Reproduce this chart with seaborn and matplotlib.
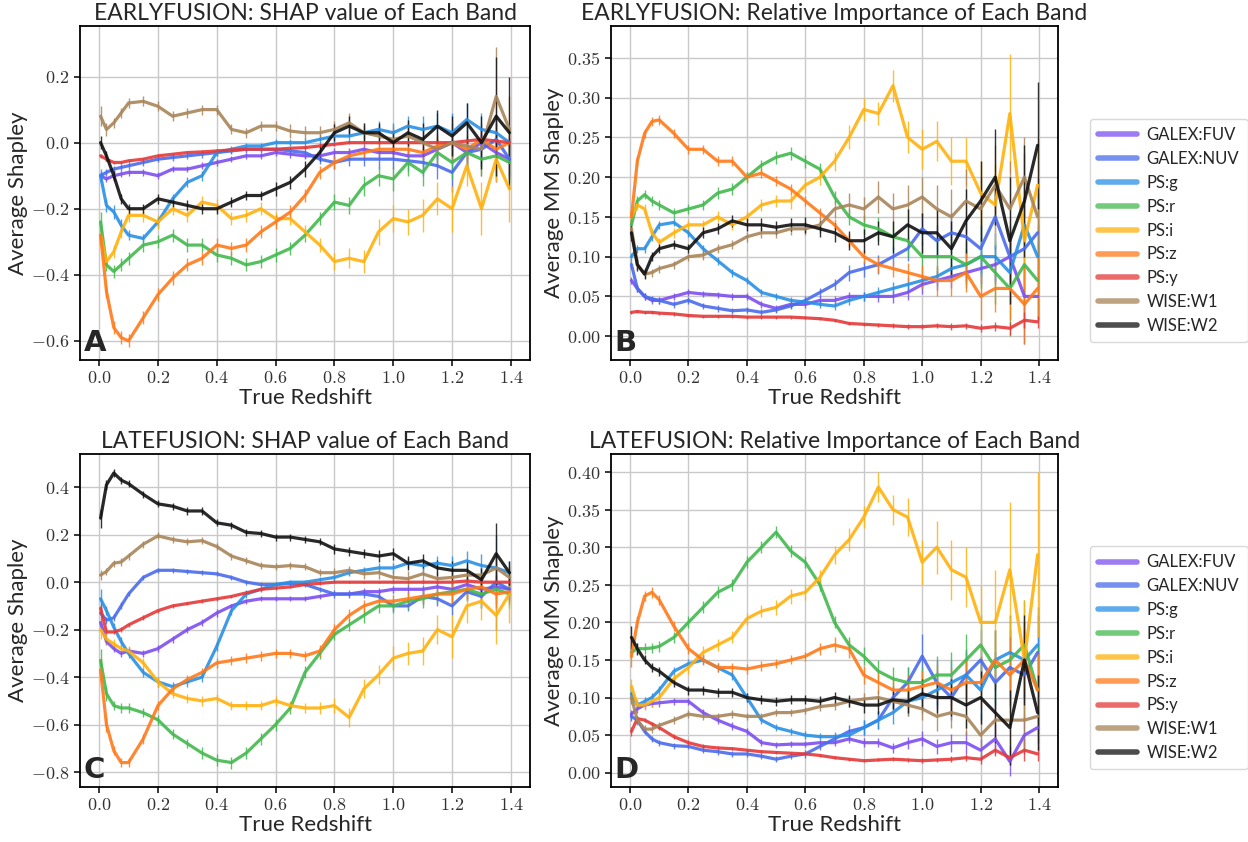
import numpy as np
import pandas as pd
import matplotlib
matplotlib.use('Agg')
import matplotlib.pyplot as plt
from matplotlib.ticker import FuncFormatter, MultipleLocator
from matplotlib.lines import Line2D
import seaborn as sns

# eixo x comum (redshift verdadeiro)
redshift = [0.005, 0.025, 0.05, 0.075, 0.1, 0.15, 0.2, 0.25, 0.3, 0.35, 0.4, 0.45, 0.5, 0.55, 0.6,
            0.65, 0.7, 0.75, 0.8, 0.85, 0.9, 0.95, 1.0, 1.05, 1.1, 1.15, 1.2, 1.25, 1.3, 1.35, 1.395]

bandas = ['GALEX:FUV', 'GALEX:NUV', 'PS:g', 'PS:r', 'PS:i', 'PS:z', 'PS:y', 'WISE:W1', 'WISE:W2']
cores = ['#7d4ff0', '#4a6cec', '#2a90e6', '#43b94f', '#ffb20f', '#ff7a1a', '#e53a3a', '#a8855a', '#111111']

# ---- A: EARLYFUSION SHAP ----
a_fuv = [-0.10, -0.11, -0.10, -0.095, -0.09, -0.09, -0.10, -0.08, -0.08, -0.07, -0.06, -0.05, -0.04, -0.04, -0.03,
         -0.035, -0.04, -0.04, -0.03, -0.03, -0.02, -0.03, -0.03, -0.04, -0.04, -0.02, 0.00, -0.03, 0.00, -0.03, -0.05]
a_nuv = [-0.10, -0.09, -0.08, -0.075, -0.07, -0.06, -0.05, -0.045, -0.04, -0.035, -0.03, -0.025, -0.02, -0.02, -0.02,
         -0.025, -0.03, -0.05, -0.06, -0.05, -0.05, -0.05, -0.05, -0.055, -0.06, -0.07, -0.09, -0.03, -0.02, 0.01, -0.05]
a_g = [-0.10, -0.19, -0.21, -0.25, -0.28, -0.29, -0.24, -0.17, -0.12, -0.10, -0.03, -0.02, -0.01, -0.01, 0.00,
       0.00, 0.00, 0.01, 0.02, 0.02, 0.03, 0.04, 0.03, 0.05, 0.04, 0.05, 0.03, 0.07, 0.04, 0.03, 0.00]
a_r = [-0.24, -0.37, -0.39, -0.37, -0.35, -0.31, -0.30, -0.28, -0.31, -0.31, -0.34, -0.35, -0.37, -0.36, -0.34,
       -0.32, -0.28, -0.23, -0.18, -0.19, -0.13, -0.10, -0.11, -0.06, -0.09, -0.03, -0.06, -0.03, -0.05, -0.04, -0.06]
a_i = [-0.28, -0.36, -0.33, -0.27, -0.22, -0.22, -0.24, -0.20, -0.22, -0.18, -0.19, -0.23, -0.22, -0.20, -0.23,
       -0.23, -0.27, -0.31, -0.36, -0.35, -0.36, -0.27, -0.23, -0.24, -0.22, -0.17, -0.20, -0.07, -0.20, -0.05, -0.14]
a_z = [-0.28, -0.45, -0.56, -0.59, -0.60, -0.53, -0.46, -0.41, -0.37, -0.35, -0.31, -0.32, -0.31, -0.27, -0.24,
       -0.21, -0.16, -0.09, -0.06, -0.04, -0.03, -0.02, -0.02, -0.02, -0.03, -0.01, 0.00, -0.02, 0.01, -0.02, 0.00]
a_y = [-0.04, -0.05, -0.06, -0.06, -0.055, -0.05, -0.04, -0.035, -0.03, -0.028, -0.025, -0.022, -0.02, -0.02, -0.02,
       -0.017, -0.015, -0.01, -0.005, 0.00, 0.00, 0.00, 0.00, 0.00, 0.00, 0.00, 0.00, 0.005, 0.01, 0.005, 0.00]
a_w1 = [0.08, 0.04, 0.06, 0.09, 0.12, 0.125, 0.11, 0.08, 0.09, 0.10, 0.10, 0.04, 0.03, 0.05, 0.05,
        0.035, 0.03, 0.03, 0.04, 0.06, 0.03, 0.02, 0.01, 0.02, 0.00, -0.02, 0.00, -0.01, -0.02, 0.14, 0.04]
a_w2 = [0.00, -0.04, -0.10, -0.17, -0.20, -0.20, -0.17, -0.18, -0.19, -0.20, -0.20, -0.18, -0.16, -0.16, -0.14,
        -0.12, -0.08, -0.03, 0.03, 0.05, 0.03, 0.03, 0.00, 0.03, 0.01, 0.05, 0.02, 0.06, 0.00, 0.08, 0.03]

a_fuv_err = [0.01, 0.01, 0.01, 0.01, 0.01, 0.01, 0.01, 0.01, 0.01, 0.01, 0.01, 0.01, 0.01, 0.01, 0.01,
             0.01, 0.01, 0.01, 0.015, 0.015, 0.015, 0.02, 0.02, 0.02, 0.03, 0.03, 0.04, 0.04, 0.05, 0.09, 0.06]
a_nuv_err = [0.01, 0.01, 0.01, 0.01, 0.01, 0.01, 0.01, 0.01, 0.01, 0.01, 0.01, 0.01, 0.01, 0.01, 0.01,
             0.01, 0.015, 0.015, 0.02, 0.02, 0.02, 0.03, 0.03, 0.03, 0.04, 0.04, 0.06, 0.05, 0.05, 0.07, 0.05]
a_g_err = [0.02, 0.02, 0.02, 0.02, 0.015, 0.015, 0.015, 0.015, 0.015, 0.015, 0.01, 0.01, 0.01, 0.01, 0.01,
           0.01, 0.015, 0.015, 0.02, 0.02, 0.02, 0.025, 0.03, 0.03, 0.04, 0.04, 0.06, 0.05, 0.05, 0.05, 0.05]
a_r_err = [0.03, 0.02, 0.02, 0.02, 0.02, 0.02, 0.02, 0.02, 0.02, 0.02, 0.02, 0.02, 0.02, 0.02, 0.02,
           0.02, 0.02, 0.02, 0.025, 0.025, 0.03, 0.03, 0.035, 0.04, 0.04, 0.04, 0.05, 0.05, 0.05, 0.07, 0.06]
a_i_err = [0.03, 0.02, 0.02, 0.02, 0.02, 0.02, 0.02, 0.02, 0.02, 0.02, 0.02, 0.02, 0.02, 0.02, 0.02,
           0.02, 0.02, 0.02, 0.025, 0.03, 0.035, 0.04, 0.04, 0.04, 0.05, 0.05, 0.07, 0.06, 0.08, 0.07, 0.10]
a_z_err = [0.02, 0.02, 0.02, 0.02, 0.02, 0.02, 0.02, 0.02, 0.02, 0.02, 0.02, 0.02, 0.02, 0.02, 0.02,
           0.02, 0.02, 0.02, 0.02, 0.02, 0.02, 0.02, 0.02, 0.02, 0.02, 0.03, 0.03, 0.03, 0.03, 0.04, 0.04]
a_y_err = [0.005, 0.005, 0.005, 0.005, 0.005, 0.005, 0.005, 0.005, 0.005, 0.005, 0.005, 0.005, 0.005, 0.005, 0.005,
           0.005, 0.005, 0.005, 0.005, 0.005, 0.005, 0.005, 0.005, 0.005, 0.008, 0.008, 0.01, 0.01, 0.01, 0.015, 0.015]
a_w1_err = [0.03, 0.02, 0.015, 0.015, 0.015, 0.015, 0.015, 0.015, 0.015, 0.015, 0.015, 0.015, 0.015, 0.015, 0.015,
            0.02, 0.02, 0.02, 0.025, 0.03, 0.03, 0.03, 0.04, 0.04, 0.05, 0.05, 0.06, 0.07, 0.08, 0.15, 0.10]
a_w2_err = [0.02, 0.015, 0.015, 0.015, 0.015, 0.015, 0.015, 0.015, 0.015, 0.015, 0.015, 0.015, 0.015, 0.015, 0.02,
            0.02, 0.025, 0.025, 0.025, 0.03, 0.03, 0.03, 0.035, 0.04, 0.05, 0.05, 0.06, 0.06, 0.08, 0.18, 0.17]

# ---- B: EARLYFUSION importancia relativa ----
b_fuv = [0.070, 0.060, 0.050, 0.045, 0.045, 0.050, 0.055, 0.053, 0.052, 0.050, 0.050, 0.040, 0.035, 0.040, 0.040,
         0.045, 0.045, 0.050, 0.050, 0.050, 0.050, 0.055, 0.065, 0.070, 0.075, 0.080, 0.085, 0.090, 0.100, 0.050, 0.050]
b_nuv = [0.090, 0.060, 0.050, 0.047, 0.045, 0.040, 0.045, 0.038, 0.035, 0.032, 0.033, 0.030, 0.033, 0.038, 0.045,
         0.055, 0.065, 0.080, 0.085, 0.090, 0.100, 0.110, 0.135, 0.120, 0.130, 0.125, 0.110, 0.150, 0.100, 0.110, 0.130]
b_g = [0.100, 0.110, 0.110, 0.125, 0.140, 0.143, 0.130, 0.110, 0.095, 0.080, 0.070, 0.055, 0.050, 0.045, 0.043,
       0.040, 0.038, 0.045, 0.050, 0.055, 0.060, 0.065, 0.070, 0.075, 0.085, 0.090, 0.100, 0.100, 0.080, 0.140, 0.100]
b_r = [0.140, 0.170, 0.178, 0.170, 0.165, 0.155, 0.160, 0.165, 0.180, 0.185, 0.200, 0.215, 0.225, 0.230, 0.220,
       0.210, 0.175, 0.150, 0.140, 0.135, 0.125, 0.120, 0.100, 0.100, 0.100, 0.090, 0.100, 0.080, 0.060, 0.090, 0.070]
b_i = [0.150, 0.165, 0.160, 0.130, 0.118, 0.130, 0.140, 0.140, 0.150, 0.140, 0.150, 0.165, 0.170, 0.170, 0.190,
       0.200, 0.220, 0.250, 0.285, 0.280, 0.315, 0.250, 0.235, 0.245, 0.220, 0.220, 0.180, 0.165, 0.280, 0.120, 0.190]
b_z = [0.150, 0.220, 0.255, 0.270, 0.272, 0.255, 0.235, 0.235, 0.220, 0.220, 0.200, 0.205, 0.195, 0.185, 0.170,
       0.155, 0.140, 0.120, 0.100, 0.090, 0.085, 0.080, 0.075, 0.070, 0.070, 0.080, 0.050, 0.060, 0.060, 0.040, 0.060]
b_y = [0.030, 0.031, 0.030, 0.030, 0.029, 0.028, 0.026, 0.025, 0.025, 0.025, 0.024, 0.024, 0.024, 0.024, 0.023,
       0.022, 0.020, 0.016, 0.015, 0.014, 0.013, 0.012, 0.012, 0.013, 0.012, 0.013, 0.010, 0.012, 0.010, 0.020, 0.018]
b_w1 = [0.135, 0.090, 0.078, 0.080, 0.085, 0.090, 0.100, 0.102, 0.110, 0.115, 0.125, 0.130, 0.130, 0.135, 0.135,
        0.140, 0.160, 0.165, 0.160, 0.175, 0.160, 0.165, 0.175, 0.160, 0.150, 0.170, 0.160, 0.190, 0.160, 0.200, 0.150]
b_w2 = [0.130, 0.090, 0.078, 0.100, 0.110, 0.115, 0.110, 0.130, 0.135, 0.145, 0.140, 0.140, 0.137, 0.140, 0.140,
        0.135, 0.130, 0.120, 0.120, 0.130, 0.125, 0.140, 0.130, 0.130, 0.110, 0.145, 0.170, 0.200, 0.120, 0.170, 0.240]

b_fuv_err = [0.005, 0.004, 0.004, 0.004, 0.004, 0.004, 0.004, 0.004, 0.004, 0.004, 0.004, 0.004, 0.004, 0.004, 0.004,
             0.005, 0.005, 0.006, 0.006, 0.007, 0.008, 0.01, 0.012, 0.012, 0.015, 0.015, 0.02, 0.025, 0.03, 0.04, 0.03]
b_nuv_err = [0.005, 0.004, 0.004, 0.004, 0.004, 0.004, 0.004, 0.004, 0.004, 0.004, 0.004, 0.004, 0.004, 0.004, 0.005,
             0.006, 0.007, 0.01, 0.01, 0.012, 0.012, 0.015, 0.02, 0.02, 0.025, 0.025, 0.03, 0.04, 0.04, 0.12, 0.05]
b_g_err = [0.005, 0.005, 0.005, 0.005, 0.005, 0.005, 0.005, 0.005, 0.005, 0.005, 0.004, 0.004, 0.004, 0.004, 0.004,
           0.004, 0.005, 0.006, 0.006, 0.007, 0.008, 0.01, 0.01, 0.012, 0.015, 0.02, 0.025, 0.03, 0.04, 0.03, 0.04]
b_r_err = [0.008, 0.006, 0.006, 0.006, 0.006, 0.006, 0.006, 0.006, 0.007, 0.007, 0.007, 0.007, 0.008, 0.008, 0.008,
           0.008, 0.008, 0.01, 0.012, 0.015, 0.015, 0.02, 0.02, 0.025, 0.03, 0.03, 0.04, 0.04, 0.06, 0.05, 0.05]
b_i_err = [0.008, 0.006, 0.006, 0.006, 0.006, 0.006, 0.006, 0.006, 0.007, 0.007, 0.007, 0.008, 0.008, 0.01, 0.01,
           0.01, 0.012, 0.015, 0.015, 0.015, 0.02, 0.02, 0.025, 0.025, 0.03, 0.03, 0.04, 0.05, 0.075, 0.06, 0.06]
b_z_err = [0.008, 0.006, 0.006, 0.006, 0.006, 0.006, 0.006, 0.006, 0.006, 0.006, 0.006, 0.006, 0.006, 0.006, 0.006,
           0.006, 0.007, 0.008, 0.008, 0.01, 0.01, 0.012, 0.015, 0.02, 0.02, 0.025, 0.03, 0.03, 0.04, 0.05, 0.04]
b_y_err = [0.002, 0.002, 0.002, 0.002, 0.002, 0.002, 0.002, 0.002, 0.002, 0.002, 0.002, 0.002, 0.002, 0.002, 0.002,
           0.002, 0.002, 0.002, 0.002, 0.002, 0.003, 0.003, 0.003, 0.003, 0.004, 0.004, 0.005, 0.006, 0.008, 0.01, 0.008]
b_w1_err = [0.008, 0.006, 0.005, 0.005, 0.005, 0.005, 0.005, 0.006, 0.006, 0.006, 0.006, 0.007, 0.007, 0.008, 0.008,
            0.01, 0.012, 0.015, 0.015, 0.02, 0.02, 0.025, 0.025, 0.03, 0.035, 0.04, 0.04, 0.05, 0.06, 0.05, 0.05]
b_w2_err = [0.01, 0.008, 0.006, 0.006, 0.006, 0.006, 0.006, 0.007, 0.007, 0.008, 0.008, 0.008, 0.008, 0.008, 0.01,
            0.01, 0.012, 0.012, 0.015, 0.015, 0.02, 0.02, 0.025, 0.03, 0.035, 0.04, 0.05, 0.06, 0.08, 0.07, 0.08]

# ---- C: LATEFUSION SHAP ----
c_fuv = [-0.17, -0.25, -0.28, -0.30, -0.29, -0.30, -0.28, -0.24, -0.20, -0.17, -0.13, -0.10, -0.08, -0.07, -0.07,
         -0.07, -0.07, -0.06, -0.05, -0.05, -0.04, -0.04, -0.03, -0.03, -0.03, -0.02, -0.03, -0.01, -0.03, -0.02, -0.03]
c_nuv = [-0.13, -0.16, -0.15, -0.10, -0.05, 0.02, 0.05, 0.05, 0.045, 0.04, 0.035, 0.02, 0.00, -0.01, -0.01,
         -0.005, -0.01, -0.03, -0.05, -0.05, -0.05, -0.06, -0.10, -0.10, -0.06, -0.07, -0.10, -0.04, -0.06, 0.00, -0.03]
c_g = [-0.07, -0.12, -0.19, -0.25, -0.30, -0.38, -0.42, -0.44, -0.42, -0.40, -0.27, -0.12, -0.05, -0.03, -0.01,
       0.00, 0.00, 0.01, 0.02, 0.04, 0.05, 0.06, 0.06, 0.08, 0.07, 0.08, 0.07, 0.09, 0.07, 0.06, 0.04]
c_r = [-0.33, -0.47, -0.52, -0.53, -0.53, -0.55, -0.58, -0.64, -0.68, -0.72, -0.75, -0.76, -0.72, -0.66, -0.60,
       -0.53, -0.38, -0.30, -0.22, -0.18, -0.14, -0.10, -0.10, -0.08, -0.07, -0.05, -0.04, -0.03, -0.05, -0.03, -0.05]
c_i = [-0.20, -0.24, -0.26, -0.28, -0.29, -0.34, -0.42, -0.47, -0.49, -0.50, -0.49, -0.52, -0.52, -0.52, -0.50,
       -0.52, -0.53, -0.53, -0.52, -0.57, -0.45, -0.39, -0.32, -0.30, -0.29, -0.20, -0.23, -0.10, -0.08, -0.14, -0.05]
c_z = [-0.37, -0.60, -0.71, -0.76, -0.76, -0.66, -0.52, -0.45, -0.41, -0.38, -0.34, -0.33, -0.32, -0.31, -0.30,
       -0.30, -0.31, -0.29, -0.20, -0.14, -0.10, -0.08, -0.08, -0.07, -0.06, -0.05, -0.05, -0.03, -0.02, -0.05, -0.04]
c_y = [-0.11, -0.21, -0.21, -0.20, -0.18, -0.15, -0.12, -0.10, -0.09, -0.08, -0.07, -0.06, -0.045, -0.03, -0.025,
       -0.02, -0.01, -0.005, 0.00, 0.00, 0.00, 0.00, 0.00, 0.00, 0.00, 0.00, 0.00, 0.005, 0.00, 0.00, 0.00]
c_w1 = [0.03, 0.045, 0.08, 0.085, 0.11, 0.16, 0.195, 0.18, 0.17, 0.175, 0.15, 0.11, 0.09, 0.07, 0.065,
        0.07, 0.065, 0.04, 0.04, 0.05, 0.035, 0.04, 0.02, 0.015, 0.035, 0.015, 0.02, 0.03, 0.03, 0.06, 0.02]
c_w2 = [0.27, 0.41, 0.46, 0.43, 0.415, 0.37, 0.33, 0.32, 0.30, 0.30, 0.25, 0.24, 0.21, 0.205, 0.19,
        0.19, 0.18, 0.17, 0.14, 0.13, 0.12, 0.11, 0.12, 0.08, 0.09, 0.06, 0.05, 0.05, 0.01, 0.12, 0.04]

c_fuv_err = [0.02, 0.015, 0.015, 0.015, 0.015, 0.015, 0.015, 0.015, 0.015, 0.015, 0.015, 0.01, 0.01, 0.01, 0.01,
             0.01, 0.01, 0.01, 0.01, 0.01, 0.015, 0.015, 0.015, 0.02, 0.02, 0.025, 0.03, 0.03, 0.04, 0.05, 0.04]
c_nuv_err = [0.02, 0.015, 0.015, 0.015, 0.01, 0.01, 0.01, 0.01, 0.01, 0.01, 0.01, 0.01, 0.01, 0.01, 0.01,
             0.01, 0.01, 0.01, 0.015, 0.015, 0.015, 0.02, 0.02, 0.02, 0.03, 0.03, 0.04, 0.04, 0.05, 0.20, 0.05]
c_g_err = [0.04, 0.02, 0.02, 0.02, 0.02, 0.02, 0.02, 0.02, 0.02, 0.02, 0.02, 0.02, 0.015, 0.01, 0.01,
           0.01, 0.01, 0.01, 0.015, 0.015, 0.015, 0.02, 0.02, 0.02, 0.03, 0.03, 0.04, 0.04, 0.05, 0.06, 0.05]
c_r_err = [0.05, 0.03, 0.02, 0.02, 0.02, 0.02, 0.02, 0.02, 0.02, 0.025, 0.025, 0.025, 0.025, 0.025, 0.025,
           0.025, 0.025, 0.025, 0.025, 0.025, 0.03, 0.03, 0.03, 0.035, 0.04, 0.04, 0.05, 0.05, 0.06, 0.06, 0.06]
c_i_err = [0.04, 0.02, 0.02, 0.02, 0.02, 0.02, 0.02, 0.02, 0.02, 0.02, 0.02, 0.02, 0.02, 0.02, 0.02,
           0.02, 0.02, 0.025, 0.03, 0.04, 0.04, 0.04, 0.05, 0.05, 0.06, 0.06, 0.09, 0.07, 0.08, 0.12, 0.12]
c_z_err = [0.05, 0.03, 0.02, 0.02, 0.02, 0.02, 0.02, 0.02, 0.02, 0.02, 0.02, 0.02, 0.02, 0.02, 0.02,
           0.02, 0.02, 0.025, 0.025, 0.025, 0.025, 0.025, 0.025, 0.03, 0.03, 0.03, 0.04, 0.04, 0.05, 0.06, 0.05]
c_y_err = [0.02, 0.01, 0.01, 0.01, 0.01, 0.01, 0.008, 0.008, 0.008, 0.008, 0.008, 0.006, 0.006, 0.006, 0.006,
           0.005, 0.005, 0.005, 0.005, 0.005, 0.005, 0.005, 0.005, 0.005, 0.008, 0.008, 0.01, 0.01, 0.01, 0.015, 0.015]
c_w1_err = [0.02, 0.015, 0.015, 0.015, 0.015, 0.015, 0.015, 0.015, 0.015, 0.015, 0.015, 0.015, 0.015, 0.015, 0.015,
            0.015, 0.015, 0.015, 0.02, 0.02, 0.02, 0.025, 0.025, 0.03, 0.03, 0.03, 0.035, 0.04, 0.05, 0.06, 0.05]
c_w2_err = [0.04, 0.02, 0.015, 0.015, 0.015, 0.015, 0.015, 0.015, 0.015, 0.015, 0.015, 0.015, 0.015, 0.015, 0.015,
            0.015, 0.015, 0.015, 0.02, 0.02, 0.02, 0.025, 0.025, 0.03, 0.03, 0.035, 0.04, 0.04, 0.05, 0.13, 0.05]

# ---- D: LATEFUSION importancia relativa ----
d_fuv = [0.078, 0.085, 0.090, 0.092, 0.093, 0.095, 0.095, 0.080, 0.070, 0.062, 0.055, 0.040, 0.037, 0.038, 0.038,
         0.040, 0.040, 0.045, 0.040, 0.040, 0.033, 0.040, 0.045, 0.035, 0.040, 0.040, 0.030, 0.045, 0.015, 0.050, 0.060]
d_nuv = [0.075, 0.070, 0.055, 0.045, 0.040, 0.036, 0.035, 0.030, 0.028, 0.025, 0.025, 0.022, 0.018, 0.022, 0.025,
         0.035, 0.045, 0.055, 0.060, 0.070, 0.100, 0.120, 0.155, 0.120, 0.100, 0.130, 0.150, 0.120, 0.140, 0.130, 0.160]
d_g = [0.105, 0.090, 0.095, 0.100, 0.110, 0.135, 0.145, 0.150, 0.140, 0.130, 0.100, 0.070, 0.060, 0.055, 0.050,
       0.048, 0.048, 0.050, 0.060, 0.070, 0.080, 0.095, 0.100, 0.110, 0.120, 0.130, 0.110, 0.150, 0.160, 0.150, 0.170]
d_r = [0.160, 0.165, 0.165, 0.166, 0.168, 0.180, 0.200, 0.220, 0.240, 0.250, 0.280, 0.300, 0.320, 0.295, 0.280,
       0.250, 0.200, 0.170, 0.155, 0.135, 0.125, 0.120, 0.120, 0.130, 0.130, 0.150, 0.170, 0.140, 0.150, 0.170, 0.110]
d_i = [0.115, 0.090, 0.090, 0.095, 0.100, 0.125, 0.140, 0.160, 0.170, 0.180, 0.205, 0.215, 0.220, 0.235, 0.240,
       0.260, 0.290, 0.310, 0.340, 0.380, 0.350, 0.340, 0.280, 0.300, 0.270, 0.260, 0.200, 0.200, 0.270, 0.150, 0.290]
d_z = [0.155, 0.200, 0.235, 0.240, 0.230, 0.195, 0.165, 0.150, 0.140, 0.140, 0.138, 0.142, 0.145, 0.150, 0.155,
       0.165, 0.170, 0.165, 0.130, 0.120, 0.110, 0.110, 0.115, 0.120, 0.110, 0.120, 0.120, 0.150, 0.130, 0.150, 0.110]
d_y = [0.055, 0.072, 0.070, 0.065, 0.060, 0.048, 0.040, 0.035, 0.033, 0.032, 0.030, 0.028, 0.027, 0.026, 0.025,
       0.023, 0.020, 0.018, 0.016, 0.017, 0.018, 0.017, 0.016, 0.017, 0.018, 0.020, 0.018, 0.030, 0.020, 0.030, 0.025]
d_w1 = [0.100, 0.070, 0.058, 0.058, 0.063, 0.070, 0.078, 0.075, 0.075, 0.078, 0.075, 0.075, 0.080, 0.080, 0.083,
        0.088, 0.090, 0.095, 0.098, 0.100, 0.095, 0.090, 0.085, 0.075, 0.080, 0.075, 0.050, 0.070, 0.070, 0.070, 0.075]
d_w2 = [0.180, 0.165, 0.150, 0.140, 0.135, 0.120, 0.110, 0.110, 0.107, 0.107, 0.100, 0.097, 0.095, 0.097, 0.097,
        0.095, 0.100, 0.095, 0.090, 0.090, 0.097, 0.095, 0.105, 0.100, 0.100, 0.090, 0.100, 0.080, 0.060, 0.150, 0.080]

d_fuv_err = [0.006, 0.005, 0.005, 0.005, 0.005, 0.005, 0.005, 0.005, 0.005, 0.005, 0.005, 0.005, 0.004, 0.004, 0.004,
             0.004, 0.005, 0.005, 0.006, 0.006, 0.007, 0.008, 0.01, 0.01, 0.012, 0.015, 0.015, 0.02, 0.02, 0.025, 0.02]
d_nuv_err = [0.006, 0.005, 0.004, 0.004, 0.004, 0.004, 0.004, 0.004, 0.004, 0.004, 0.004, 0.004, 0.004, 0.004, 0.005,
             0.005, 0.006, 0.008, 0.01, 0.012, 0.015, 0.02, 0.03, 0.03, 0.03, 0.035, 0.04, 0.04, 0.05, 0.06, 0.05]
d_g_err = [0.008, 0.006, 0.006, 0.006, 0.006, 0.006, 0.006, 0.006, 0.006, 0.006, 0.005, 0.005, 0.005, 0.005, 0.005,
           0.005, 0.006, 0.008, 0.01, 0.012, 0.015, 0.02, 0.02, 0.025, 0.03, 0.03, 0.04, 0.04, 0.05, 0.05, 0.05]
d_r_err = [0.008, 0.007, 0.007, 0.007, 0.007, 0.007, 0.008, 0.008, 0.008, 0.008, 0.008, 0.008, 0.008, 0.008, 0.008,
           0.008, 0.008, 0.01, 0.012, 0.015, 0.015, 0.02, 0.02, 0.025, 0.03, 0.035, 0.04, 0.05, 0.06, 0.06, 0.06]
d_i_err = [0.01, 0.008, 0.007, 0.007, 0.007, 0.007, 0.008, 0.008, 0.008, 0.008, 0.008, 0.008, 0.01, 0.01, 0.01,
           0.01, 0.012, 0.015, 0.015, 0.02, 0.02, 0.025, 0.03, 0.035, 0.04, 0.04, 0.05, 0.07, 0.09, 0.08, 0.11]
d_z_err = [0.015, 0.008, 0.007, 0.007, 0.007, 0.007, 0.007, 0.007, 0.006, 0.006, 0.006, 0.006, 0.006, 0.006, 0.006,
           0.008, 0.01, 0.012, 0.012, 0.015, 0.015, 0.02, 0.02, 0.025, 0.03, 0.03, 0.035, 0.04, 0.05, 0.05, 0.05]
d_y_err = [0.006, 0.004, 0.003, 0.003, 0.003, 0.003, 0.003, 0.003, 0.003, 0.002, 0.002, 0.002, 0.002, 0.002, 0.002,
           0.002, 0.002, 0.002, 0.002, 0.002, 0.003, 0.003, 0.003, 0.003, 0.004, 0.005, 0.006, 0.008, 0.01, 0.015, 0.01]
d_w1_err = [0.008, 0.006, 0.005, 0.005, 0.005, 0.005, 0.005, 0.005, 0.005, 0.005, 0.005, 0.005, 0.005, 0.005, 0.005,
            0.006, 0.006, 0.007, 0.008, 0.01, 0.012, 0.015, 0.015, 0.02, 0.02, 0.025, 0.03, 0.03, 0.04, 0.04, 0.04]
d_w2_err = [0.015, 0.008, 0.006, 0.006, 0.006, 0.006, 0.006, 0.006, 0.006, 0.006, 0.006, 0.006, 0.006, 0.006, 0.006,
            0.007, 0.008, 0.008, 0.01, 0.012, 0.012, 0.015, 0.02, 0.02, 0.025, 0.03, 0.035, 0.04, 0.05, 0.06, 0.05]

# ---- estilo ----
sns.set_style('whitegrid', {'axes.edgecolor': 'black', 'grid.color': '#c9c9c9',
                            'xtick.bottom': True, 'ytick.left': True})
plt.rcParams['font.family'] = ['Lato', 'DejaVu Sans']
plt.rcParams['mathtext.fontset'] = 'cm'
plt.rcParams['axes.linewidth'] = 1.3


def desenha(ax, medias, erros, titulo, rotulo_y, letra, lim_y, passo_y, casas):
    linhas = []
    for banda, cor, m, e in zip(bandas, cores, medias, erros):
        ax.errorbar(redshift, m, yerr=e, fmt='none', ecolor=cor, elinewidth=1.0, alpha=0.85, zorder=2)
        linhas.append(pd.DataFrame({'z': redshift, 'v': m, 'banda': banda}))
    df = pd.concat(linhas, ignore_index=True)
    sns.lineplot(data=df, x='z', y='v', hue='banda', hue_order=bandas, palette=cores,
                 estimator=None, sort=False, lw=2.3, alpha=0.9, legend=False, ax=ax, zorder=3)
    ax.set_title(titulo, fontsize=16.5, pad=4)
    ax.set_xlabel('True Redshift', fontsize=16, labelpad=1)
    ax.set_ylabel(rotulo_y, fontsize=16, labelpad=2)
    ax.set_xlim(-0.065, 1.465)
    ax.set_ylim(*lim_y)
    ax.xaxis.set_major_locator(MultipleLocator(0.2))
    ax.yaxis.set_major_locator(MultipleLocator(passo_y))
    ax.xaxis.set_major_formatter(FuncFormatter(lambda v, p: r'$\mathrm{%.1f}$' % v))
    ax.yaxis.set_major_formatter(FuncFormatter(lambda v, p: r'$\mathrm{%.*f}$' % (casas, v) if v >= 0
                                               else r'$-\mathrm{%.*f}$' % (casas, -v)))
    ax.tick_params(labelsize=13, length=4, width=1.1, color='black', labelcolor='#333333')
    ax.grid(True, lw=1.0)
    ax.text(0.008, 0.008, letra, transform=ax.transAxes, fontsize=21, fontweight='bold',
            family='DejaVu Sans', ha='left', va='bottom', zorder=5)


fig = plt.figure(figsize=(12.48, 8.42), dpi=100)
ax_a = fig.add_axes([0.0641, 0.5724, 0.3606, 0.3967])
ax_b = fig.add_axes([0.4896, 0.5724, 0.3582, 0.3967])
ax_c = fig.add_axes([0.0641, 0.0653, 0.3606, 0.3955])
ax_d = fig.add_axes([0.4896, 0.0653, 0.3582, 0.3955])

desenha(ax_a, [a_fuv, a_nuv, a_g, a_r, a_i, a_z, a_y, a_w1, a_w2],
        [a_fuv_err, a_nuv_err, a_g_err, a_r_err, a_i_err, a_z_err, a_y_err, a_w1_err, a_w2_err],
        'EARLYFUSION: SHAP value of Each Band', 'Average Shapley', 'A', (-0.658, 0.353), 0.2, 1)
desenha(ax_b, [b_fuv, b_nuv, b_g, b_r, b_i, b_z, b_y, b_w1, b_w2],
        [b_fuv_err, b_nuv_err, b_g_err, b_r_err, b_i_err, b_z_err, b_y_err, b_w1_err, b_w2_err],
        'EARLYFUSION: Relative Importance of Each Band', 'Average MM Shapley', 'B', (-0.030, 0.390), 0.05, 2)
desenha(ax_c, [c_fuv, c_nuv, c_g, c_r, c_i, c_z, c_y, c_w1, c_w2],
        [c_fuv_err, c_nuv_err, c_g_err, c_r_err, c_i_err, c_z_err, c_y_err, c_w1_err, c_w2_err],
        'LATEFUSION: SHAP value of Each Band', 'Average Shapley', 'C', (-0.863, 0.540), 0.2, 1)
desenha(ax_d, [d_fuv, d_nuv, d_g, d_r, d_i, d_z, d_y, d_w1, d_w2],
        [d_fuv_err, d_nuv_err, d_g_err, d_r_err, d_i_err, d_z_err, d_y_err, d_w1_err, d_w2_err],
        'LATEFUSION: Relative Importance of Each Band', 'Average MM Shapley', 'D', (-0.019, 0.424), 0.05, 2)

# legendas a direita de B e D
alcas = [Line2D([0], [0], color=c, lw=4, alpha=0.75) for c in cores]
for topo in (0.8587, 0.3515):
    fig.legend(alcas, bandas, loc='upper left', bbox_to_anchor=(0.8734, topo), borderaxespad=0,
               fontsize=12, frameon=True, edgecolor='#d0d0d0', fancybox=True, handlelength=2.3,
               handletextpad=0.6, labelspacing=0.47, borderpad=0.5)

fig.savefig('out.png', dpi=100)
